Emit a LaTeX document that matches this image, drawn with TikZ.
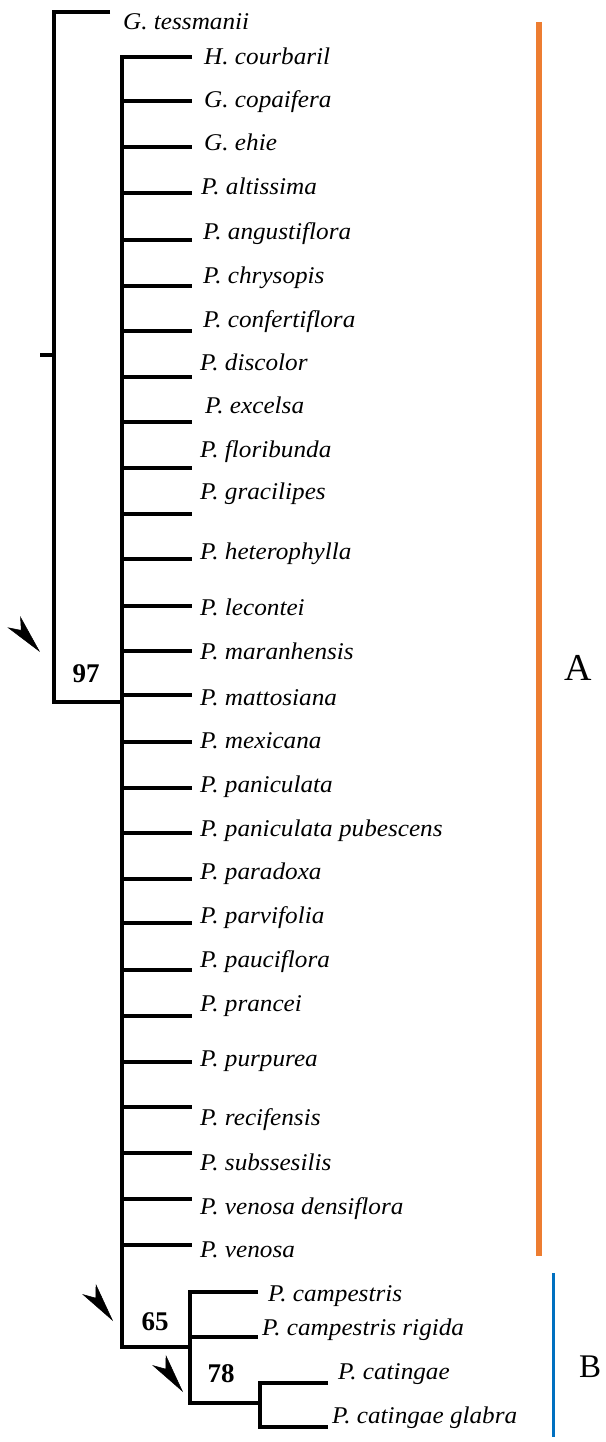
\documentclass[tikz,border=0pt]{standalone}
\usepackage{fontspec}
\setmainfont{Liberation Serif}
\newfontfamily\leaffont[FakeStretch=1.05]{Liberation Serif}
\usepackage{xcolor}
\usetikzlibrary{arrows.meta}
\definecolor{cladeA}{HTML}{ED7D31}
\definecolor{cladeB}{HTML}{0070C0}

\begin{document}
\begin{tikzpicture}[x=1pt,y=-1pt,
    branch/.style={line width=3.8pt, line join=miter},
    leaf/.style={anchor=base west, inner sep=0pt,
      font=\leaffont\itshape\fontsize{24}{27}\selectfont},
    boot/.style={inner sep=0pt, font=\bfseries\fontsize{27}{30}\selectfont},
    pointer/.style={-{Stealth[length=40pt,width=17pt,inset=11pt]}, line width=0.5pt},
    cladelab/.style={inner sep=0pt}]
    \useasboundingbox (0,0) rectangle (605,1442);

    % outgroup and root
    \coordinate (root)      at (40,355);
    \coordinate (gtes-tip)  at (110,12);
    \coordinate (n97)       at (54,702);
    \coordinate (j97)       at (122,702);
    \node[leaf] (gtes) at (123,30) {G. tessmanii};
    \draw[branch] (gtes-tip) -| (n97) -- (j97);
    \draw[branch] (root) -- (root -| n97);

    % clade A spine
    \coordinate (hcou-tip) at (192,57);
    \coordinate (n65)      at (122,1347);
    \coordinate (j65)      at (190,1347);
    \draw[branch] (hcou-tip) -| (n65) -- (j65);

    \foreach \nm/\x/\yb/\yl/\txt in {
        hcou/204/57/57/H. courbaril,
        gcop/204/101/100/G. copaifera,
        gehi/204/147/143/G. ehie,
        palt/201/193/187/P. altissima,
        pang/203/240/231/P. angustiflora,
        pchr/203/286/275/P. chrysopis,
        pcon/203/331/319/P. confertiflora,
        pdis/200/377/362/P. discolor,
        pexc/205/422/405/P. excelsa,
        pflo/200/468/449/P. floribunda,
        pgra/200/514/491/P. gracilipes,
        phet/200/559/551/P. heterophylla,
        plec/200/606/607/P. lecontei,
        pmar/200/651/651/P. maranhensis,
        pmat/200/695/697/P. mattosiana,
        pmex/200/742/740/P. mexicana,
        ppan/200/788/784/P. paniculata,
        pppu/200/833/828/P. paniculata pubescens,
        ppdx/200/879/871/P. paradoxa,
        ppvf/200/923/915/P. parvifolia,
        ppau/200/970/959/P. pauciflora,
        ppra/200/1016/1003/P. prancei,
        ppur/200/1062/1058/P. purpurea,
        prec/200/1107/1117/P. recifensis,
        psub/200/1153/1162/P. subssesilis,
        pvde/200/1199/1206/P. venosa densiflora,
        pven/200/1245/1249/P. venosa} {
      \coordinate (\nm-tip) at (192,\yb);
      \node[leaf] (\nm) at (\x,\yl+8) {\txt};
      \draw[branch] (n65 |- \nm-tip) -- (\nm-tip);
    }

    % clade B
    \coordinate (pcam-tip) at (258,1292);
    \coordinate (pcri-tip) at (258,1337);
    \coordinate (n78)      at (190,1403);
    \coordinate (j78)      at (260,1403);
    \coordinate (pcat-tip) at (328,1383);
    \coordinate (pcgl-tip) at (328,1427);
    \draw[branch] (pcam-tip) -| (n78) -- (j78);
    \draw[branch] (j65 |- pcri-tip) -- (pcri-tip);
    \draw[branch] (pcat-tip) -| (j78) |- (pcgl-tip);
    \node[leaf] (pcam) at (268,1301) {P. campestris};
    \node[leaf] (pcri) at (262,1335) {P. campestris rigida};
    \node[leaf] (pcat) at (338,1379) {P. catingae};
    \node[leaf] (pcgl) at (332,1423) {P. catingae glabra};

    % support values and pointers
    \node[boot] (b97) at (86,674)  {97};
    \node[boot] (b65) at (155,1322) {65};
    \node[boot] (b78) at (221,1374) {78};
    \coordinate (p97a) at (38.7,650.5);   \coordinate (p97b) at (40,652);
    \coordinate (p65a) at (111.8,1319.4); \coordinate (p65b) at (113,1321);
    \coordinate (p78a) at (181.8,1390.4); \coordinate (p78b) at (183,1392);
    \draw[pointer] (p97a) -- (p97b);
    \draw[pointer] (p65a) -- (p65b);
    \draw[pointer] (p78a) -- (p78b);

    % clade bars
    \coordinate (barA1) at (538.5,22);   \coordinate (barA2) at (538.5,1256);
    \coordinate (barB1) at (553.5,1273); \coordinate (barB2) at (553.5,1437);
    \draw[cladeA, line width=6pt] (barA1) -- (barA2);
    \draw[cladeB, line width=2.5pt] (barB1) -- (barB2);
    \node[cladelab, font=\fontsize{38}{40}\selectfont] (labA) at (578,668) {A};
    \node[cladelab, font=\fontsize{33}{36}\selectfont] (labB) at (590,1367) {B};
  \end{tikzpicture}
\end{document}
